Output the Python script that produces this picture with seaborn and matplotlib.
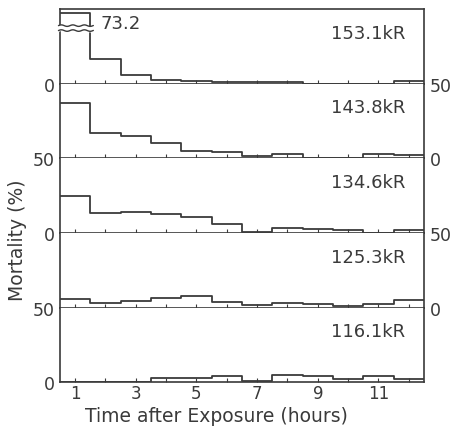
import numpy as np
import pandas as pd
import matplotlib
matplotlib.use('Agg')
import matplotlib.pyplot as plt
import seaborn as sns

# 1時間ごとの死亡率 (%)
hours = np.arange(1, 13)
doses = ['153.1kR', '143.8kR', '134.6kR', '125.3kR', '116.1kR']
mort_153 = [73.2, 16.7, 6.0, 2.7, 1.5, 1.0, 1.0, 1.0, 0, 0, 0, 1.5]
mort_143 = [36.7, 16.7, 15.1, 10.4, 5.0, 4.0, 1.6, 2.7, 0, 0, 2.9, 2.2]
mort_134 = [24.4, 13.3, 14.2, 12.9, 10.7, 5.8, 0.8, 3.0, 2.7, 2.0, 0, 2.0]
mort_125 = [6.0, 3.1, 4.4, 6.7, 7.6, 3.5, 1.8, 3.1, 2.2, 0.9, 2.2, 4.9]
mort_116 = [0, 0, 0, 2.7, 2.7, 4.4, 0.7, 5.1, 4.0, 1.8, 4.0, 2.4]
series = [mort_153, mort_143, mort_134, mort_125, mort_116]

sns.set_style('ticks')
plt.rcParams['font.family'] = ['DejaVu Sans']
ink = '#3a3a3a'
cap = 47  # 上段の最初の棒は途中で切る

fig, axes = plt.subplots(5, 1, figsize=(4.51, 4.31), dpi=100, sharex=True)
fig.subplots_adjust(left=0.133, right=0.940, top=0.977, bottom=0.111, hspace=0)

for i, (ax, vals, dose) in enumerate(zip(axes, series, doses)):
    df = pd.DataFrame({'hour': hours, 'mort': np.minimum(vals, cap)})
    sns.histplot(data=df, x='hour', weights='mort', binwidth=1, binrange=(0.5, 12.5),
                 element='step', fill=False, color=ink, linewidth=1.3, ax=ax)
    ax.set_xlim(0.5, 12.5)
    ax.set_ylim(0, 50)
    ax.set_ylabel('')
    ax.set_xlabel('')
    for s in ['left', 'right', 'bottom']:
        ax.spines[s].set_visible(True)
        ax.spines[s].set_color(ink)
        ax.spines[s].set_linewidth(1.2)
    ax.spines['top'].set_visible(i == 0)
    ax.spines['top'].set_color(ink)
    ax.spines['top'].set_linewidth(1.2)

    ax.set_xticks(hours)
    ax.tick_params(axis='x', direction='in', length=3, width=0.8, color=ink,
                   top=False, labelbottom=(i == 4), labelsize=12, labelcolor=ink, pad=1)
    if i == 0:
        ax.set_yticks([0])
    else:
        ax.set_yticks([0, 50])
    left_side = (i % 2 == 0)
    ax.tick_params(axis='y', length=0, labelsize=12.5, labelcolor=ink, pad=4,
                   left=False, right=False,
                   labelleft=left_side, labelright=not left_side)
    ax.text(0.948, 0.68, dose, transform=ax.transAxes, ha='right', va='center',
            fontsize=13, color=ink)

axes[4].set_xticklabels(['1', '', '3', '', '5', '', '7', '', '9', '', '11', ''])

# 軸の切れ目（上段の73.2）
top = axes[0]
xw = np.linspace(0.45, 1.6, 60)
wave = 0.5 * np.sin((xw - 0.45) * 2 * np.pi / 0.38)
top.fill_between(xw, 35.5 + wave, 38.8 + wave, color='white', zorder=5, clip_on=False)
top.plot(xw, 35.5 + wave, color=ink, lw=1.0, zorder=6, clip_on=False)
top.plot(xw, 38.8 + wave, color=ink, lw=1.0, zorder=6, clip_on=False)
top.text(1.85, 40.5, '73.2', ha='left', va='center', fontsize=13, color=ink)

fig.text(0.038, 0.443, 'Mortality (%)', rotation=90, ha='center', va='center',
         fontsize=13.5, color=ink)
fig.text(0.481, 0.033, 'Time after Exposure (hours)', ha='center', va='center',
         fontsize=13.5, color=ink)

fig.savefig('out.png', dpi=100, facecolor='white')
